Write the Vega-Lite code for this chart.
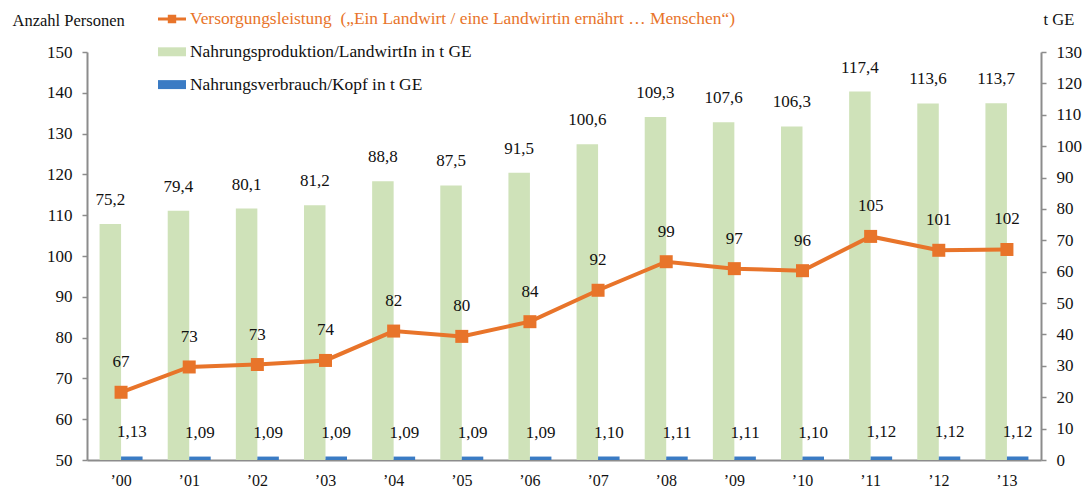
{
  "$schema": "https://vega.github.io/schema/vega-lite/v6.json",
  "width": 954,
  "height": 408,
  "autosize": {"type": "none"},
  "padding": {"left": 87, "top": 52, "right": 45, "bottom": 29},
  "background": "white",
  "config": {
    "locale": {"number": {"decimal": ",", "thousands": ".", "grouping": [3], "currency": ["", " €"]}},
    "font": "Liberation Serif",
    "view": {"stroke": null},
    "axis": {
      "grid": false,
      "domainColor": "#8c8c8c",
      "domainWidth": 2,
      "tickColor": "#8c8c8c",
      "tickWidth": 1.5,
      "tickSize": 5,
      "labelFont": "Liberation Serif",
      "labelFontSize": 17,
      "labelColor": "#111111",
      "labelPadding": 10,
      "titleFont": "Liberation Serif",
      "titleFontSize": 16.5,
      "titleFontWeight": "normal",
      "titleColor": "#111111"
    }
  },
  "data": {
    "values": [
      {"jahr": "’00", "prod": 75.2, "verbr": 1.13, "vers": 66.6},
      {"jahr": "’01", "prod": 79.4, "verbr": 1.09, "vers": 72.8},
      {"jahr": "’02", "prod": 80.1, "verbr": 1.09, "vers": 73.4},
      {"jahr": "’03", "prod": 81.2, "verbr": 1.09, "vers": 74.4},
      {"jahr": "’04", "prod": 88.8, "verbr": 1.09, "vers": 81.6},
      {"jahr": "’05", "prod": 87.5, "verbr": 1.09, "vers": 80.3},
      {"jahr": "’06", "prod": 91.5, "verbr": 1.09, "vers": 83.9},
      {"jahr": "’07", "prod": 100.6, "verbr": 1.10, "vers": 91.6},
      {"jahr": "’08", "prod": 109.3, "verbr": 1.11, "vers": 98.6},
      {"jahr": "’09", "prod": 107.6, "verbr": 1.11, "vers": 96.9},
      {"jahr": "’10", "prod": 106.3, "verbr": 1.10, "vers": 96.4},
      {"jahr": "’11", "prod": 117.4, "verbr": 1.12, "vers": 104.8},
      {"jahr": "’12", "prod": 113.6, "verbr": 1.12, "vers": 101.4},
      {"jahr": "’13", "prod": 113.7, "verbr": 1.12, "vers": 101.6}
    ]
  },
  "encoding": {
    "x": {
      "field": "jahr",
      "type": "nominal",
      "sort": null,
      "scale": {"paddingInner": 0.369, "paddingOuter": 0.1845},
      "axis": {"title": null, "ticks": false, "tickSize": 0, "labelAngle": 0, "labelPadding": 12, "labelFontSize": 16}
    }
  },
  "layer": [
    {
      "transform": [{"fold": ["prod", "verbr"], "as": ["reihe", "wert"]}],
      "encoding": {
        "y": {
          "field": "wert",
          "type": "quantitative",
          "scale": {"domain": [0, 130], "nice": false, "zero": true},
          "axis": {
            "orient": "right",
            "values": [0, 10, 20, 30, 40, 50, 60, 70, 80, 90, 100, 110, 120, 130],
            "title": "t GE",
            "titleAngle": 0,
            "titleAlign": "left",
            "titleBaseline": "middle",
            "titleX": 2,
            "titleY": -33
          }
        },
        "xOffset": {"field": "reihe", "type": "nominal", "scale": {"domain": ["prod", "verbr"]}}
      },
      "layer": [
        {
          "mark": {"type": "bar"},
          "encoding": {
            "color": {
              "field": "reihe",
              "type": "nominal",
              "scale": {"domain": ["vers", "prod", "verbr"], "range": ["#E8742A", "#CFE2B9", "#3A7BC4"]},
              "legend": {
                "title": null,
                "orient": "none",
                "legendX": 71,
                "legendY": -47,
                "direction": "vertical",
                "padding": 0,
                "symbolSize": 784,
                "symbolStrokeWidth": 0,
                "labelFont": "Liberation Serif",
                "labelFontSize": 17.4,
                "labelColor": "#111111",
                "labelLimit": 0,
                "labelOffset": 4,
                "rowPadding": 9.8,
                "labelExpr": "datum.value == 'vers' ? 'Versorgungsleistung\u00a0\u00a0(„Ein Landwirt / eine Landwirtin ernährt … Menschen“)' : datum.value == 'prod' ? 'Nahrungsproduktion/LandwirtIn in t GE' : 'Nahrungsverbrauch/Kopf in t GE'",
                "encode": {
                  "symbols": {"update": {"shape": {"signal": "datum.value == 'vers' ? 'M-1,-0.11H1V0.11H-1Z M-0.3,-0.3H0.3V0.3H-0.3Z' : 'M-1,-0.32H1V0.32H-1Z'"}}},
                  "labels": {"update": {"fill": {"signal": "datum.value == 'vers' ? '#E8742A' : '#111111'"}}}
                }
              }
            }
          }
        },
        {
          "transform": [{"filter": "datum.reihe == 'prod'"}],
          "mark": {"type": "text", "dy": -24, "baseline": "middle", "fontSize": 17, "font": "Liberation Serif", "color": "#111111"},
          "encoding": {"text": {"field": "wert", "type": "quantitative", "format": ".1f"}}
        },
        {
          "transform": [{"filter": "datum.reihe == 'verbr'"}],
          "mark": {"type": "text", "dy": -24, "baseline": "middle", "fontSize": 17, "font": "Liberation Serif", "color": "#111111"},
          "encoding": {"text": {"field": "wert", "type": "quantitative", "format": ".2f"}}
        }
      ]
    },
    {
      "encoding": {
        "y": {
          "field": "vers",
          "type": "quantitative",
          "scale": {"domain": [50, 150], "nice": false, "zero": false},
          "axis": {
            "orient": "left",
            "values": [50, 60, 70, 80, 90, 100, 110, 120, 130, 140, 150],
            "title": "Anzahl Personen",
            "titleAngle": 0,
            "titleAlign": "left",
            "titleBaseline": "middle",
            "titleX": -75,
            "titleY": -32
          }
        }
      },
      "layer": [
        {"mark": {"type": "line", "color": "#E8742A", "strokeWidth": 4}},
        {"mark": {"type": "point", "shape": "square", "filled": true, "opacity": 1, "size": 169, "color": "#E8742A"}},
        {
          "mark": {"type": "text", "dy": -30, "baseline": "middle", "fontSize": 17, "font": "Liberation Serif", "color": "#111111"},
          "encoding": {"text": {"field": "vers", "type": "quantitative", "format": ".0f"}}
        }
      ]
    }
  ],
  "resolve": {"scale": {"y": "independent"}}
}
